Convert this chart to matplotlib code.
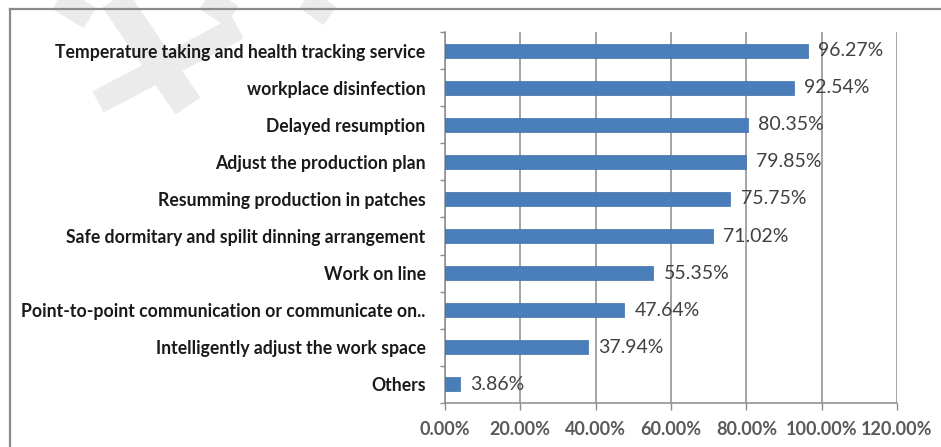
import matplotlib.pyplot as plt
from matplotlib.lines import Line2D
from matplotlib.ticker import MultipleLocator, FuncFormatter

measures = [
    "Temperature taking and health tracking service",
    "workplace disinfection",
    "Delayed resumption",
    "Adjust the production plan",
    "Resumming production in patches",
    "Safe dormitary and spilit dinning arrangement",
    "Work on line",
    "Point-to-point communication or communicate on..",
    "Intelligently adjust the work space",
    "Others",
]
shares = [96.27, 92.54, 80.35, 79.85, 75.75, 71.02, 55.35, 47.64, 37.94, 3.86]

W, H = 941, 447
fig = plt.figure(figsize=(W / 100, H / 100), dpi=100)
fig.patch.set_facecolor("white")


def px(x, y):
    return x / W, 1 - y / H


# faint watermark strokes behind the chart
for (x0, y0), (x1, y1), w in [
    ((52, -5), (90, 18), 24),
    ((112, -5), (188, 106), 30),
    ((98, 102), (238, 28), 24),
    ((200, -5), (232, 16), 24),
    ((300, -5), (330, 16), 22),
]:
    a, b = px(x0, y0)
    c, d = px(x1, y1)
    fig.add_artist(Line2D([a, c], [b, d], color="#ebebeb", lw=w * 0.72,
                          solid_capstyle="butt", zorder=-5))

# chart frame (top and left edges)
fig.add_artist(Line2D([10 / W, 1], [1 - 9 / H, 1 - 9 / H], color="#8a8a8a", lw=1.6, zorder=-1))
fig.add_artist(Line2D([10 / W, 10 / W], [1 - 9 / H, 0], color="#8a8a8a", lw=1.6, zorder=-1))

left, right = 445 / W, 897 / W
bottom, top = 1 - 403 / H, 1 - 32 / H
ax = fig.add_axes([left, bottom, right - left, top - bottom])
ax.set_facecolor("none")

y = list(range(len(measures)))
bars = ax.barh(y, shares, height=0.38, color="#4A7EBB", edgecolor="#3F6FA8",
               linewidth=0.5, zorder=3)

for yi, v in zip(y, shares):
    ax.annotate(f"{v:.2f}%", (v, yi), xytext=(7.5, 0), textcoords="offset points",
                va="center", ha="left", fontsize=14, color="#404040",
                family="Lato", zorder=4)

ax.set_xlim(0, 120)
ax.set_ylim(len(measures) - 0.5, -0.5)
ax.xaxis.set_major_locator(MultipleLocator(20))
ax.xaxis.set_major_formatter(FuncFormatter(lambda v, p: f"{v:.2f}%"))
ax.grid(axis="x", color="#8c8c8c", lw=1.1, zorder=0)

ax.set_yticks(y)
ax.set_yticklabels(measures, fontsize=12.7, fontweight="bold", family="Lato", color="#1a1a1a")
ax.set_yticks([i - 0.5 for i in range(len(measures) + 1)], minor=True)
ax.tick_params(axis="y", which="major", length=0, pad=14)
ax.tick_params(axis="y", which="minor", length=3.5, width=1, color="#8c8c8c", direction="out")
ax.tick_params(axis="x", length=5, width=1, color="#8c8c8c", pad=8)
for lbl in ax.get_xticklabels():
    lbl.set_fontsize(13)
    lbl.set_fontweight("bold")
    lbl.set_family("Lato")
    lbl.set_color("#595959")

for s in ["top", "right"]:
    ax.spines[s].set_visible(False)
for s in ["left", "bottom"]:
    ax.spines[s].set_color("#8c8c8c")
    ax.spines[s].set_linewidth(1.1)

fig.savefig("out.png", dpi=100, facecolor="white")
